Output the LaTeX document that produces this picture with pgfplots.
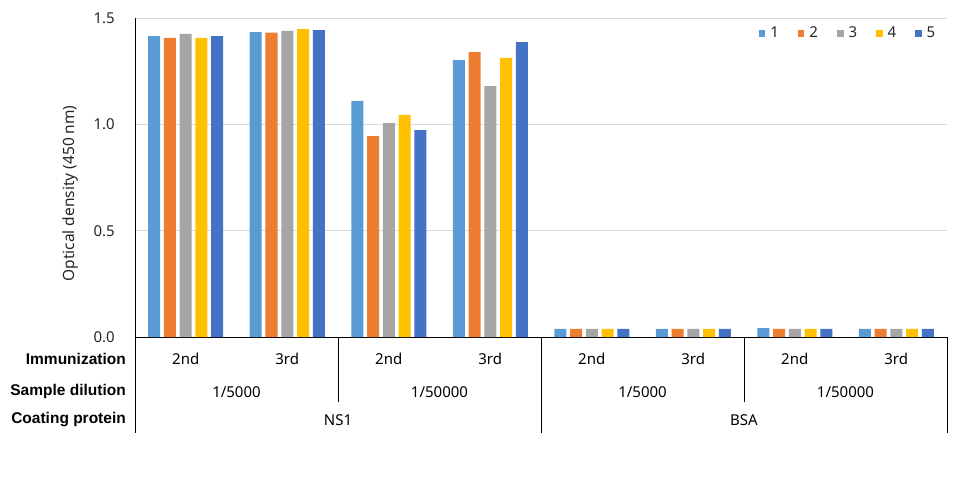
\documentclass[border=0pt]{standalone}
\usepackage{fontspec}
\setmainfont{Noto Sans}
\newfontfamily\lsans{Liberation Sans}
\usepackage{pgfplots}
\usepackage{pgfplotstable}
\pgfplotsset{compat=1.18}
\definecolor{c1}{HTML}{5B9BD5}
\definecolor{c2}{HTML}{ED7D31}
\definecolor{c3}{HTML}{A5A5A5}
\definecolor{c4}{HTML}{FFC000}
\definecolor{c5}{HTML}{4472C4}
\definecolor{gridgray}{HTML}{D9D9D9}
\definecolor{txt}{HTML}{262626}
\pgfplotstableread{
x   s1    s2    s3    s4    s5
0.5 1.415 1.406 1.425 1.406 1.415
1.5 1.434 1.431 1.439 1.448 1.443
2.5 1.110 0.945 1.006 1.044 0.973
3.5 1.302 1.340 1.180 1.312 1.387
4.5 0.038 0.038 0.038 0.038 0.038
5.5 0.038 0.038 0.038 0.038 0.038
6.5 0.042 0.038 0.038 0.038 0.038
7.5 0.038 0.038 0.038 0.038 0.038
}\datatable
\begin{document}
\fontsize{15}{18}\selectfont
\begin{tikzpicture}[x=1pt,y=1pt]
\useasboundingbox (-135,-140) rectangle (826,337);
\begin{axis}[
  at={(0,0)}, anchor=south west,
  scale only axis, width=812pt, height=319pt,
  xmin=0, xmax=8, ymin=0, ymax=1.5,
  clip=false,
  ybar=3.75pt, bar width=12pt,
  axis x line=bottom, axis y line=left,
  axis line style={-, black},
  major tick length=0pt,
  ytick={0,0.5,1,1.5},
  /pgf/number format/fixed, /pgf/number format/fixed zerofill, /pgf/number format/precision=1,
  /pgf/number format/assume math mode=true,
  yticklabel style={anchor=east, inner sep=0pt, xshift=-20pt, text=txt},
  ymajorgrids, grid style={draw=gridgray, line width=0.8pt},
  xtick={0.5,1.5,2.5,3.5,4.5,5.5,6.5,7.5},
  xticklabels={2nd,3rd,2nd,3rd,2nd,3rd,2nd,3rd},
  xticklabel style={anchor=center, yshift=-22pt, text=black},
  extra x ticks={1,3,5,7},
  extra x tick labels={1/5000,1/50000,1/5000,1/50000},
  extra x tick style={xticklabel style={yshift=-33pt}, grid=none},
  ylabel={Optical density (450 nm)},
  ylabel style={at={(axis description cs:-0.080,0.45)}, anchor=center, text=txt, font=\fontsize{15.5}{18}\selectfont},
  legend columns=5,
  legend style={at={(axis description cs:0.992,0.985)}, anchor=north east, draw=none, fill=none,
    /tikz/every even column/.append style={column sep=17pt}, nodes={inner sep=2pt, text=txt}},
  legend image code/.code={\fill[#1] (0pt,-3pt) rectangle (6.5pt,3.5pt); \path (9.5pt,0pt);},
]
\addplot[fill=c1, draw=none] table[x=x, y=s1] {\datatable};
\addplot[fill=c2, draw=none] table[x=x, y=s2] {\datatable};
\addplot[fill=c3, draw=none] table[x=x, y=s3] {\datatable};
\addplot[fill=c4, draw=none] table[x=x, y=s4] {\datatable};
\addplot[fill=c5, draw=none] table[x=x, y=s5] {\datatable};
\legend{1,2,3,4,5}
\draw[black] (axis cs:0,0) -- ++(0pt,-96pt);
\draw[black] (axis cs:2,0) -- ++(0pt,-65pt);
\draw[black] (axis cs:4,0) -- ++(0pt,-96pt);
\draw[black] (axis cs:6,0) -- ++(0pt,-65pt);
\draw[black] (axis cs:8,0) -- ++(0pt,-96pt);
\tikzset{rowlab/.style={anchor=east, font=\lsans\bfseries\fontsize{15.5}{18}\selectfont}}
\node[rowlab] at ([xshift=-4pt,yshift=-22pt]axis cs:0,0) {Immunization};
\node[rowlab] at ([xshift=-4pt,yshift=-54pt]axis cs:0,0) {Sample dilution};
\node[rowlab] at ([xshift=-4pt,yshift=-83pt]axis cs:0,0) {Coating protein};
\node[anchor=center] at ([yshift=-83pt]axis cs:2,0) {NS1};
\node[anchor=center] at ([yshift=-83pt]axis cs:6,0) {BSA};
\end{axis}
\end{tikzpicture}
\end{document}
